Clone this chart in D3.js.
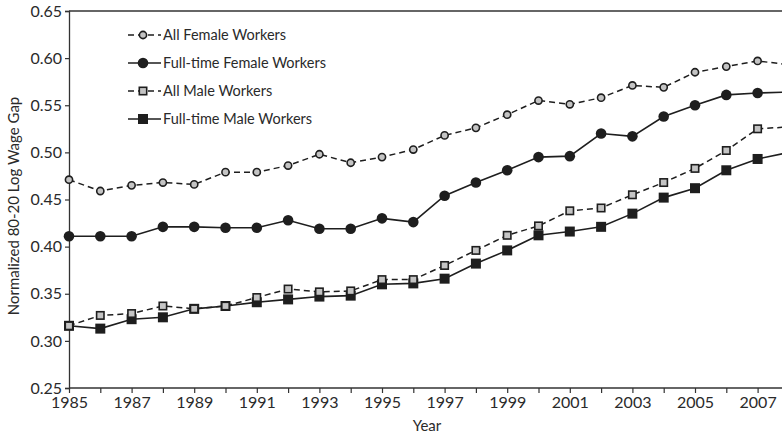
<!DOCTYPE html>
<html>
<head>
<meta charset="utf-8">
<script src="https://cdn.jsdelivr.net/npm/d3@7"></script>
<style>
  html, body { margin: 0; padding: 0; background: #fff; }
  svg { display: block; font-family: Lato, "Open Sans", sans-serif; }
</style>
</head>
<body>
<svg id="chart" width="782" height="437"></svg>
<script>
const years = [1985,1986,1987,1988,1989,1990,1991,1992,1993,1994,1995,1996,1997,1998,1999,2000,2001,2002,2003,2004,2005,2006,2007,2008];
const allFemale = [0.471,0.459,0.465,0.468,0.466,0.479,0.479,0.486,0.498,0.489,0.495,0.503,0.518,0.526,0.540,0.555,0.551,0.558,0.571,0.569,0.585,0.591,0.597,0.593];
const ftFemale = [0.411,0.411,0.411,0.421,0.421,0.420,0.420,0.428,0.419,0.419,0.430,0.426,0.454,0.468,0.481,0.495,0.496,0.520,0.517,0.538,0.550,0.561,0.563,0.564];
const allMale = [0.316,0.327,0.329,0.337,0.334,0.337,0.346,0.355,0.352,0.353,0.365,0.365,0.380,0.396,0.412,0.422,0.438,0.441,0.455,0.468,0.483,0.502,0.525,0.527];
const ftMale = [0.316,0.313,0.323,0.325,0.334,0.337,0.341,0.344,0.347,0.348,0.360,0.361,0.366,0.382,0.396,0.412,0.416,0.421,0.435,0.452,0.462,0.481,0.493,0.500];
const yTicks = [0.25,0.30,0.35,0.40,0.45,0.50,0.55,0.60,0.65];
const xTickLabels = [1985,1987,1989,1991,1993,1995,1997,1999,2001,2003,2005,2007];
const seriesNames = ["All Female Workers","Full-time Female Workers","All Male Workers","Full-time Male Workers"];

const series = [
  {name: seriesNames[0], values: allFemale, dashed: true, shape: "circle", filled: false},
  {name: seriesNames[1], values: ftFemale, dashed: false, shape: "circle", filled: true},
  {name: seriesNames[2], values: allMale, dashed: true, shape: "square", filled: false},
  {name: seriesNames[3], values: ftMale, dashed: false, shape: "square", filled: true}
];

const svg = d3.select("#chart");
const mLeft = 69, mTop = 11, mBottom = 388;
const x = d3.scaleLinear().domain([1985, 2007]).range([mLeft, 757.6]);
const y = d3.scaleLinear().domain([0.25, 0.65]).range([mBottom, mTop]);
const ink = "#1e1e1e";
const textCol = "#2a2a2a";

// top border
svg.append("line").attr("x1", mLeft).attr("x2", 782).attr("y1", mTop).attr("y2", mTop)
  .attr("stroke", "#333").attr("stroke-width", 1.3);

// y axis
const yAxis = svg.append("g").attr("transform", `translate(${mLeft},0)`)
  .call(d3.axisLeft(y).tickValues(yTicks).tickFormat(d3.format(".2f")).tickSize(4).tickPadding(3));
yAxis.select(".domain").attr("stroke", "#333").attr("stroke-width", 1.3);
yAxis.selectAll(".tick line").attr("stroke", "#333").attr("stroke-width", 1.2);
yAxis.selectAll("text").attr("font-size", 16).attr("fill", textCol).attr("font-family", "Lato, sans-serif");

// x axis
const xAxis = svg.append("g").attr("transform", `translate(0,${mBottom})`)
  .call(d3.axisBottom(x).tickValues(years).tickFormat(d => xTickLabels.includes(d) ? String(d) : "").tickSize(5).tickSizeOuter(0).tickPadding(4));
xAxis.select(".domain").attr("d", `M${mLeft},0H782`).attr("stroke", "#333").attr("stroke-width", 1.3);
xAxis.selectAll(".tick line").attr("stroke", "#333").attr("stroke-width", 1.2);
xAxis.selectAll("text").attr("font-size", 16).attr("fill", textCol).attr("font-family", "Lato, sans-serif");

// axis titles
svg.append("text").attr("x", 427).attr("y", 431).attr("text-anchor", "middle")
  .attr("font-size", 15).attr("fill", textCol).text("Year");
svg.append("text").attr("transform", "translate(19,206) rotate(-90)").attr("text-anchor", "middle")
  .attr("font-size", 15).attr("fill", textCol).text("Normalized 80-20 Log Wage Gap");

// lines
const line = d3.line().x((d, i) => x(years[i])).y(d => y(d));

function drawMarker(g, s, cx, cy) {
  if (s.shape === "circle") {
    if (s.filled) {
      g.append("circle").attr("cx", cx).attr("cy", cy).attr("r", 5.3).attr("fill", ink);
    } else {
      g.append("circle").attr("cx", cx).attr("cy", cy).attr("r", 3.6)
        .attr("fill", "#c4c4c4").attr("stroke", ink).attr("stroke-width", 1.6);
    }
  } else {
    if (s.filled) {
      g.append("rect").attr("x", cx - 5).attr("y", cy - 5).attr("width", 10).attr("height", 10).attr("fill", ink);
    } else {
      g.append("rect").attr("x", cx - 3.7).attr("y", cy - 3.7).attr("width", 7.4).attr("height", 7.4)
        .attr("fill", "#c4c4c4").attr("stroke", ink).attr("stroke-width", 1.6);
    }
  }
}

series.slice().reverse().forEach(s => {
  svg.append("path").datum(s.values).attr("d", line).attr("fill", "none")
    .attr("stroke", ink).attr("stroke-width", s.dashed ? 1.5 : 1.6)
    .attr("stroke-dasharray", s.dashed ? "6,4" : null);
  const g = svg.append("g");
  s.values.forEach((v, i) => drawMarker(g, s, x(years[i]), y(v)));
});

// legend
const legendY0 = 35, legendDY = 28;
series.forEach((s, i) => {
  const ly = legendY0 + i * legendDY;
  const g = svg.append("g");
  g.append("line").attr("x1", 128).attr("x2", 161).attr("y1", ly).attr("y2", ly)
    .attr("stroke", ink).attr("stroke-width", 1.5)
    .attr("stroke-dasharray", s.dashed ? "6,4" : null);
  drawMarker(g, s, 143, ly);
  g.append("text").attr("x", 163).attr("y", ly).attr("dy", "0.35em")
    .attr("font-size", 14.5).attr("fill", textCol).text(s.name);
});
</script>
</body>
</html>
